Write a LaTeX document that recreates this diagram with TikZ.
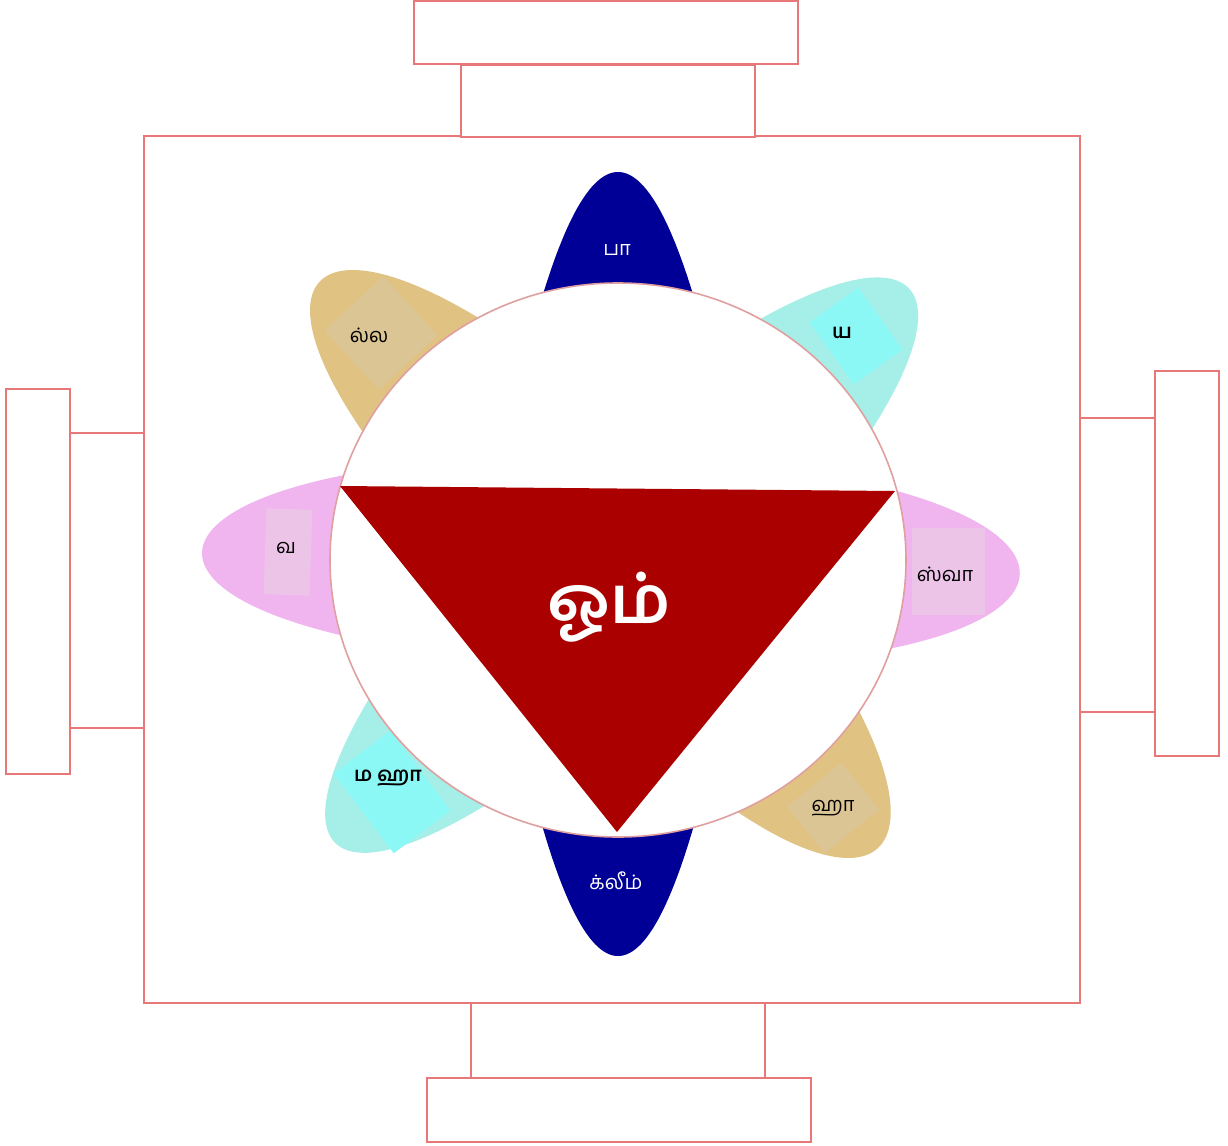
\documentclass[tikz,border=0pt]{standalone}
\usepackage{fontspec}
\newfontfamily\tam[Script=Tamil]{Hind Madurai}
\usetikzlibrary{calc,shapes.geometric}
\definecolor{frame}{HTML}{E87878}
\definecolor{ringc}{HTML}{E0A0A0}
\definecolor{petblue}{HTML}{000096}
\definecolor{pettan}{HTML}{E0C283}
\definecolor{tanin}{HTML}{DCC594}
\definecolor{petcyan}{HTML}{A6EEE8}
\definecolor{cyanin}{HTML}{8CF8F6}
\definecolor{petpink}{HTML}{F0B4EE}
\definecolor{pinkin}{HTML}{ECC4E8}
\definecolor{trired}{HTML}{AA0000}
\newcommand{\mypetal}[4]{%
  \pgfmathsetmacro\pc{(#2-50)/0.75}%
  \fill[#4, shift={(618,560)}, rotate=#1] (200,-93) .. controls (\pc,-#3) and (\pc,#3) .. (200,93) -- cycle;%
}
\tikzset{
  box/.style={draw=frame, line width=0.9pt, fill=white},
  lbl/.style={font=\tam\fontsize{10}{12}\selectfont, text=black, inner sep=0pt},
  lblb/.style={lbl, font=\tam\bfseries\fontsize{10}{12}\selectfont},
  lblw/.style={lbl, text=white},
}
\begin{document}
\begin{tikzpicture}[x=0.5pt,y=-0.5pt]
\useasboundingbox (0,0) rectangle (1228,1146);
% outer structure
\draw[box] (144,136) rectangle (1080,1003);
\draw[box] (461,65) rectangle (755,137);
\draw[box] (414,1) rectangle (798,64);
\draw[box] (471,1003) rectangle (765,1078);
\draw[box] (427,1078) rectangle (811,1142);
\draw[box] (70,433) rectangle (144,728);
\draw[box] (6,389) rectangle (70,774);
\draw[box] (1080,418) rectangle (1155,712);
\draw[box] (1155,371) rectangle (1219,756);
% petals
\mypetal{90}{388}{31}{petblue}
\mypetal{-90}{396}{31}{petblue}
\mypetal{137}{408}{58}{pettan}
\mypetal{-48}{388}{55}{pettan}
\mypetal{43}{398}{50}{petcyan}
\mypetal{225}{400}{50}{petcyan}
\mypetal{179}{416}{55}{petpink}
\mypetal{-2}{402}{55}{petpink}
% inner panels
\fill[tanin, shift={(381,333)}, rotate=42.6] (-40,-40) rectangle (40,40);
\fill[tanin, shift={(833,808)}, rotate=39] (-35,-30) rectangle (35,30);
\fill[cyanin, shift={(856,336)}, rotate=35.5] (-30,-38) rectangle (30,38);
\fill[cyanin, shift={(392,792)}, rotate=37] (-35.5,-50) rectangle (35.5,50);
\fill[pinkin, shift={(288,552)}, rotate=-2] (-23,-43) rectangle (23,43);
\fill[pinkin] (912,528) rectangle (985,615);
% central disc
\node[draw=ringc, fill=white, line width=0.8pt, ellipse, minimum width=288pt, minimum height=277pt, inner sep=0pt] (disc) at (618,560) {};
% triangle
\coordinate (tl) at (340,486);
\coordinate (tr) at (895,491);
\coordinate (tb) at (617,832);
\fill[trired] (tl) -- (tr) -- (tb) -- cycle;
% labels
\node[lblw] (pa) at (617,250) {பா};
\node[lblw] (klim) at (616,881) {க்லீம்};
\node[lbl] (lla) at (369,335) {ல்ல};
\node[lblb] (ya) at (842,333) {ய};
\node[lbl] (va) at (286,548) {வ};
\node[lbl] (sva) at (945,574) {ஸ்வா};
\node[lblb] (maha) at (388,778) {ம ஹா};
\node[lbl] (ha) at (833,808) {ஹா};
\node[text=white, inner sep=0pt, font=\tam\bfseries\fontsize{33}{36}\selectfont] (om) at (609,607) {ஓம்};
\end{tikzpicture}
\end{document}
